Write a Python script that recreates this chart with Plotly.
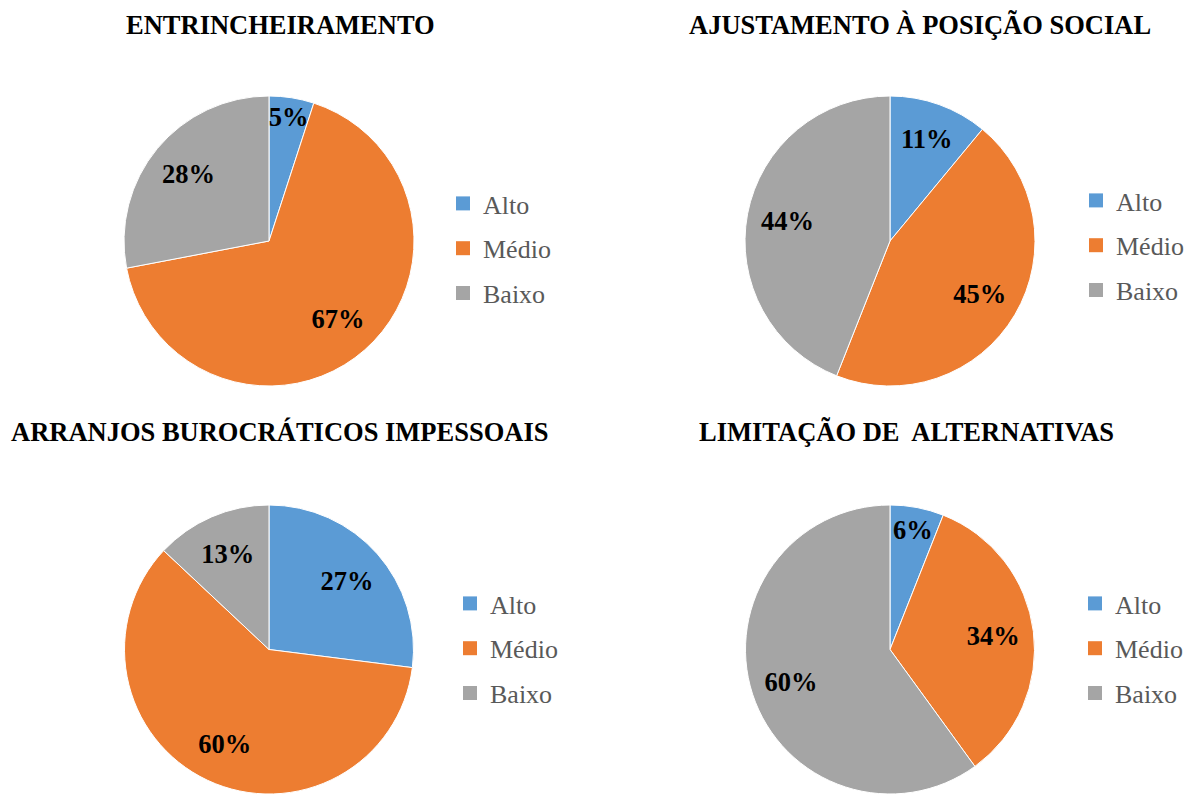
import plotly.graph_objects as go

categories = ["Alto", "Médio", "Baixo"]
colors = ["#5B9BD5", "#ED7D31", "#A5A5A5"]

titles = [
    "ENTRINCHEIRAMENTO",
    "AJUSTAMENTO À POSIÇÃO SOCIAL",
    "ARRANJOS BUROCRÁTICOS IMPESSOAIS",
    "LIMITAÇÃO DE\u00a0 ALTERNATIVAS",
]
entrincheiramento = [5, 67, 28]
ajustamento = [11, 45, 44]
arranjos = [27, 60, 13]
limitacao = [6, 34, 60]
series = [entrincheiramento, ajustamento, arranjos, limitacao]

W, H = 1185, 794
SERIF = "Liberation Serif"

# pixel layout: (pie center x, center y, radius, title center x, title y, legend left x, legend top y)
panels = [
    (269, 241, 145, 280, 25, 443, 180),
    (890, 241, 145, 920, 25, 1076, 177),
    (269, 650, 145, 279, 432, 450, 580),
    (890, 650, 145, 906, 432, 1075, 580),
]

fig = go.Figure()
annotations = []
legends = {}
for i, (vals, title, p) in enumerate(zip(series, titles, panels)):
    cx, cy, r, tx, ty, lx, ly = p
    x0 = max(0, (cx - r) / W)
    x1 = min(1, (cx + r) / W)
    y0 = max(0, 1 - (cy + r) / H)
    y1 = min(1, 1 - (cy - r) / H)
    dom = dict(x=[x0, x1], y=[y0, y1])
    # slices
    fig.add_trace(go.Pie(
        labels=categories, values=vals, sort=False, direction="clockwise",
        rotation=0,
        marker=dict(colors=colors, line=dict(color="white", width=1)),
        textinfo="none", domain=dom,
        showlegend=False, hoverinfo="label+percent",
    ))
    # percentage labels (transparent ring so labels sit at ~0.72 r like the original)
    fig.add_trace(go.Pie(
        labels=categories, values=vals, sort=False, direction="clockwise",
        rotation=0, hole=0.44,
        marker=dict(colors=["rgba(0,0,0,0)"] * 3, line=dict(width=0)),
        textinfo="percent", textposition="inside",
        insidetextorientation="horizontal",
        textfont=dict(family=SERIF, size=26.5, color="black", weight="bold"),
        domain=dom, showlegend=False, hoverinfo="skip",
    ))
    lname = "legend" if i == 0 else f"legend{i+1}"
    for c, col in zip(categories, colors):
        fig.add_trace(go.Scatter(
            x=[None], y=[None], mode="markers", name=c,
            marker=dict(symbol="square", size=14, color=col, line=dict(width=0)),
            legend=lname, legendgroup=f"{lname}_{c}", showlegend=True,
        ))
    legends[lname] = dict(
        x=lx / W, y=1 - ly / H, xanchor="left", yanchor="top",
        xref="container", yref="container",
        font=dict(family=SERIF, size=26, color="#595959"),
        bgcolor="rgba(0,0,0,0)", tracegroupgap=8, traceorder="grouped",
    )
    annotations.append(dict(
        text=f"<b>{title}</b>", x=tx / W, y=1 - ty / H, xref="paper", yref="paper",
        xanchor="center", yanchor="middle", showarrow=False,
        font=dict(family=SERIF, size=26.5, color="black"),
    ))

fig.update_layout(
    width=W, height=H, margin=dict(l=0, r=0, t=0, b=0, autoexpand=False),
    paper_bgcolor="white", plot_bgcolor="white",
    xaxis=dict(visible=False), yaxis=dict(visible=False),
    annotations=annotations,
    uniformtext=dict(minsize=26.5, mode="show"),
    **legends,
)
fig.write_html("out.html")
